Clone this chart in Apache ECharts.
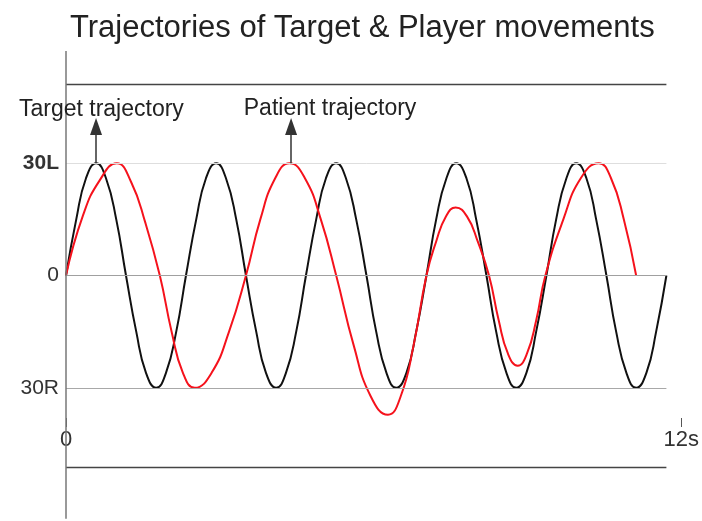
<!DOCTYPE html>
<html>
<head>
<meta charset="utf-8">
<script src="https://cdn.jsdelivr.net/npm/echarts@6/dist/echarts.min.js"></script>
<style>
  html, body { margin: 0; padding: 0; background: #fff; }
  #chart { width: 702px; height: 521px; }
</style>
</head>
<body>
<div id="chart"></div>
<script>
// target (black) trajectory, seconds / degrees (L positive, R negative)
const targetTime = [0, 0.20, 0.39, 0.59, 0.78, 0.98, 1.17, 1.37, 1.56, 1.76, 1.95, 2.15,
  2.34, 2.54, 2.73, 2.93, 3.12, 3.32, 3.51, 3.71, 3.90, 4.10, 4.29, 4.49,
  4.68, 4.88, 5.07, 5.27, 5.46, 5.66, 5.86, 6.05, 6.25, 6.44, 6.64, 6.83,
  7.03, 7.22, 7.42, 7.61, 7.81, 8.00, 8.20, 8.39, 8.59, 8.78, 8.98, 9.17,
  9.37, 9.56, 9.76, 9.95, 10.15, 10.34, 10.54, 10.73, 10.93, 11.12, 11.32, 11.51, 11.71];
const targetPos = [0, 15, 26, 30, 26, 15, 0, -15, -26, -30, -26, -15,
  0, 15, 26, 30, 26, 15, 0, -15, -26, -30, -26, -15,
  0, 15, 26, 30, 26, 15, 0, -15, -26, -30, -26, -15,
  0, 15, 26, 30, 26, 15, 0, -15, -26, -30, -26, -15,
  0, 15, 26, 30, 26, 15, 0, -15, -26, -30, -26, -15, 0];

// patient (red) trajectory
const patientTime = [0, 0.33, 0.66, 0.99, 1.27, 1.55, 1.83, 2.06, 2.28, 2.51, 2.84, 3.18,
  3.51, 3.79, 4.08, 4.36, 4.66, 4.97, 5.27, 5.61, 5.94, 6.28, 6.53, 6.78,
  7.03, 7.22, 7.41, 7.60, 7.82, 8.03, 8.25, 8.44, 8.62, 8.81, 8.99, 9.17,
  9.35, 9.70, 10.04, 10.39, 10.63, 10.88, 11.12];
const patientPos = [0, 16, 25.5, 30, 25, 14, 0, -15, -26, -30, -26, -15,
  0, 15, 26, 30, 26, 15, 0, -18.6, -32.2, -37.2, -32.2, -18.6,
  0, 9.1, 15.8, 18.2, 15.8, 9.1, 0, -12, -20.9, -24.1, -20.9, -12,
  0, 15, 26, 30, 26, 15, 0];

const yTicks = { '30': '{b|30L}', '0': '0', '-30': '30R' };
const frameEnd = 11.71;

const font = 'Liberation Sans, Arial, sans-serif';
const chart = echarts.init(document.getElementById('chart'));

const zip = (t, v) => t.map((x, i) => [x, v[i]]);
const hLine = (y, color, width) => [
  { coord: [0, y], lineStyle: { color: color, width: width, type: 'solid' } },
  { coord: [frameEnd, y] }
];

chart.setOption({
  animation: false,
  title: {
    text: 'Trajectories of Target & Player movements',
    left: 65,
    top: 8,
    textStyle: { fontFamily: font, fontSize: 31, fontWeight: 'normal', color: '#222' }
  },
  grid: { left: 66, right: 19, top: 51, height: 467.75 },
  xAxis: {
    type: 'value',
    min: 0,
    max: 12,
    interval: 12,
    offset: -100.75,
    axisLine: { show: false, onZero: false },
    axisTick: { show: true, length: 9, lineStyle: { color: '#555' } },
    splitLine: { show: false },
    axisLabel: {
      margin: 11,
      fontFamily: font,
      fontSize: 22,
      color: '#333',
      formatter: v => (v === 0 ? '0' : v + 's')
    }
  },
  yAxis: {
    type: 'value',
    min: -65,
    max: 60,
    interval: 5,
    axisLine: { show: false },
    axisTick: { show: false },
    splitLine: { show: false },
    axisLabel: {
      margin: 7,
      fontFamily: font,
      fontSize: 21,
      color: '#333',
      formatter: v => yTicks[String(v)] || '',
      rich: { b: { fontFamily: font, fontSize: 21, fontWeight: 'bold', color: '#333' } }
    }
  },
  series: [
    {
      // frame lines
      type: 'line',
      data: [],
      z: 1,
      clip: false,
      silent: true,
      markLine: {
        silent: true,
        symbol: 'none',
        label: { show: false },
        data: [
          hLine(30, '#dedede', 1),
          hLine(0, '#a0a0a0', 1.2),
          hLine(-30, '#a8a8a8', 1.2),
          hLine(51.2, '#444', 1.3),
          hLine(-51.2, '#444', 1.3),
          [
            { coord: [0, 60], lineStyle: { color: '#777', width: 1.5, type: 'solid' } },
            { coord: [0, -65] }
          ]
        ]
      }
    },
    {
      name: 'Target trajectory',
      type: 'line',
      z: 3,
      smooth: true,
      showSymbol: false,
      lineStyle: { color: '#111', width: 2 },
      data: zip(targetTime, targetPos),
      markLine: {
        silent: true,
        symbol: ['none', 'triangle'],
        label: { show: false },
        data: [[
          { coord: [0.586, 30], lineStyle: { color: '#333', width: 1.5, type: 'solid' } },
          { coord: [0.586, 39.8], symbol: 'triangle', symbolSize: [12, 17], itemStyle: { color: '#333' } }
        ]]
      },
      markPoint: {
        silent: true,
        symbol: 'rect',
        symbolSize: 0,
        label: {
          show: true, position: 'inside', fontFamily: font, fontSize: 23, color: '#222',
          formatter: p => p.name
        },
        data: [{ name: 'Target trajectory', coord: [0.69, 44.2] }]
      }
    },
    {
      name: 'Patient trajectory',
      type: 'line',
      z: 4,
      smooth: true,
      showSymbol: false,
      lineStyle: { color: '#f5121c', width: 2 },
      data: zip(patientTime, patientPos),
      markLine: {
        silent: true,
        symbol: ['none', 'triangle'],
        label: { show: false },
        data: [[
          { coord: [4.39, 30], lineStyle: { color: '#333', width: 1.5, type: 'solid' } },
          { coord: [4.39, 39.8], symbol: 'triangle', symbolSize: [12, 17], itemStyle: { color: '#333' } }
        ]]
      },
      markPoint: {
        silent: true,
        symbol: 'rect',
        symbolSize: 0,
        label: {
          show: true, position: 'inside', fontFamily: font, fontSize: 23, color: '#222',
          formatter: p => p.name
        },
        data: [{ name: 'Patient trajectory', coord: [5.15, 44.5] }]
      }
    }
  ]
});
</script>
</body>
</html>
